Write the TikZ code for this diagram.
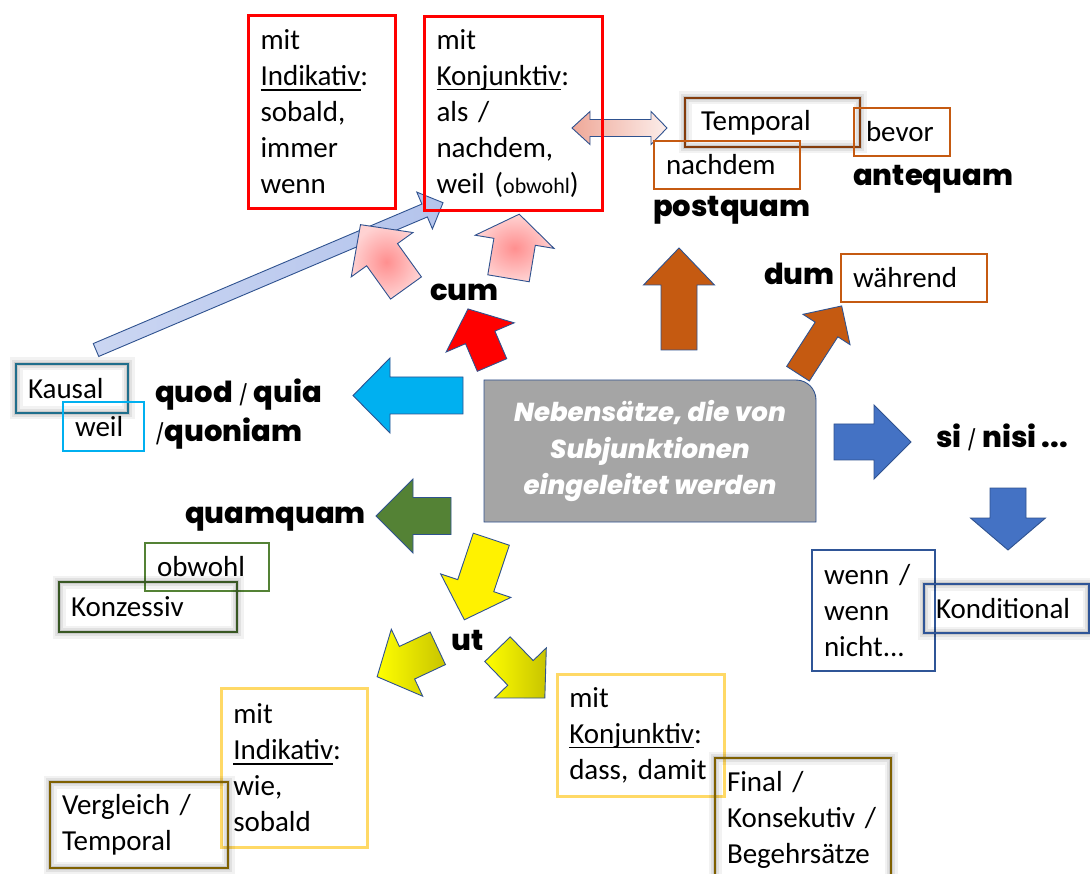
\documentclass[tikz,border=0pt]{standalone}
\usepackage{fontspec}
\setmainfont{Carlito}
\newfontfamily\futfont{Poppins}[BoldFont={Poppins ExtraBold}, BoldItalicFont={Poppins ExtraBold Italic}]
\usepackage{tikz}
\usetikzlibrary{positioning,shadings}

\definecolor{umriss}{HTML}{2F528F}
\definecolor{rot}{HTML}{FF0000}
\definecolor{braun}{HTML}{C55A11}
\definecolor{dunkelbraun}{HTML}{843C0C}
\definecolor{cyanblau}{HTML}{00B0F0}
\definecolor{petrol}{HTML}{1F6E8C}
\definecolor{gruen}{HTML}{548235}
\definecolor{dunkelgruen}{HTML}{385723}
\definecolor{blau}{HTML}{4472C4}
\definecolor{dunkelblau}{HTML}{2F5597}
\definecolor{gold}{HTML}{FFD966}
\definecolor{dunkelgold}{HTML}{7F6000}
\definecolor{grau}{HTML}{A5A5A5}
\definecolor{hellblau}{HTML}{B4C4EC}
\definecolor{rosa}{HTML}{FF8F8F}
\definecolor{lachs}{HTML}{EFA898}
\definecolor{gelbdunkel}{HTML}{C8C400}

\newcommand{\unterstr}[1]{\leavevmode\setbox0\hbox{#1}\rlap{\rule[-0.17em]{\wd0}{0.05em}}\box0}
\newcommand{\schraeg}{{\mdseries\fontsize{20}{20}\selectfont /}}

% block arrow: style, tail, angle, length, half shaft, half head, head length
\newcommand{\blockpfeil}[7]{%
  \draw[#1, shift={#2}, rotate=#3] (0,-#5) -- ({#4-#7},-#5) -- ({#4-#7},-#6) -- (#4,0)
    -- ({#4-#7},#6) -- ({#4-#7},#5) -- (0,#5) -- cycle;}

\begin{document}
\begin{tikzpicture}[x=1pt, y=-1pt,
kasten/.style={draw, line width=2pt, inner xsep=12pt, inner ysep=0pt, align=left,
  anchor=north west, font=\fontsize{29}{36}\selectfont},
schatten/.style={preaction={draw=black, draw opacity=0.05, line width=13pt},
  preaction={draw=black, draw opacity=0.07, line width=8pt},
  preaction={draw=black, draw opacity=0.10, line width=4pt}},
latein/.style={font=\futfont\bfseries\fontsize{29}{36}\selectfont, inner sep=0pt, anchor=base west},
form/.style={draw=umriss, line width=0.9pt, line join=miter}]
    \useasboundingbox (0,0) rectangle (1090,874);

    % arrows to cum boxes
    \blockpfeil{form, left color=hellblau!70, right color=hellblau}{(96,350)}{23}{377}{7}{20}{20}
    \blockpfeil{form, inner color=rosa, outer color=rosa!40}{(406,288)}{125.7}{78}{19}{38}{37}
    \blockpfeil{form, inner color=rosa, outer color=rosa!40}{(508.5,278.3)}{80.5}{65}{21}{40}{28}
    \blockpfeil{form, fill=rot}{(492,365)}{113.2}{61}{16}{37}{31}

    % arrows round the middle
    \blockpfeil{form, fill=cyanblau}{(463,395.5)}{180}{110}{18.5}{37.5}{37}
    \blockpfeil{form, fill=gruen}{(451,516)}{180}{75}{18.5}{37}{37}
    \blockpfeil{form, fill=braun}{(679,350)}{90}{102}{18}{35.5}{37}
    \blockpfeil{form, fill=braun}{(798,373.7)}{57.2}{80.6}{13.5}{28}{28}
    \blockpfeil{form, fill=blau}{(834,442)}{0}{77}{18}{37}{37}
    \blockpfeil{form, fill=blau}{(1008,488)}{-90}{62}{18}{37.5}{32}
    \blockpfeil{form, fill=yellow}{(491.3,539.2)}{-108.5}{85}{19}{37}{36}
    \blockpfeil{form, left color=yellow, right color=gelbdunkel}{(437.8,648.3)}{-154.9}{67}{18}{37}{33}
    \blockpfeil{form, left color=yellow, right color=gelbdunkel}{(497.5,649.2)}{-45.9}{68}{17.7}{36}{35}

    % double arrow
    \draw[form, left color=lachs, right color=lachs!20] (572,128) -- (590,111.5) -- (590,119.5)
        -- (651,119.5) -- (651,111.5) -- (667,128) -- (651,144.5) -- (651,136.5)
        -- (590,136.5) -- (590,144.5) -- cycle;

    % middle box
    \draw[fill=grau, draw=umriss, line width=0.9pt] (484,522) -- (484,380) -- (796,380)
        arc[start angle=90, end angle=0, radius=20pt] -- (816,522) -- cycle;
    \node[font=\futfont\bfseries\itshape\fontsize{26}{36.5}\selectfont, text=white, align=center]
        (kern) at (650,451) {Nebensätze, die von\\Subjunktionen\\eingeleitet werden};

    % cum
    \node[kasten, draw=rot, line width=3pt, text width=123pt, minimum height=193pt] (cumind) at (247,14)
        {mit\\\unterstr{Indikativ}:\\sobald,\\immer\\wenn};
    \node[kasten, draw=rot, line width=3pt, text width=154pt, minimum height=194pt] (cumkonj) at (423,15)
        {mit\\\unterstr{Konjunktiv}:\\als~/\\nachdem,\\weil~({\fontsize{22}{36}\selectfont obwohl})};
    \node[latein] (cum) at (430,301) {cum};

    % postquam / antequam / dum
    \node[kasten, schatten, draw=dunkelbraun, inner xsep=16pt, text width=143pt, minimum height=49pt] (temp) at (684,97) {Temporal};
    \node[kasten, draw=braun, text width=72pt, minimum height=48pt] (bevor) at (853,107) {bevor};
    \node[kasten, draw=braun, text width=122pt, minimum height=48pt] (nachdem) at (653,140) {nachdem};
    \node[latein] (antequam) at (853,186) {antequam};
    \node[latein] (postquam) at (653,217) {postquam};
    \node[latein] (dum) at (764,285) {dum};
    \node[kasten, draw=braun, text width=122pt, minimum height=48pt] (waehrend) at (840,253) {während};

    % quod / quia
    \node[kasten, schatten, draw=petrol, text width=88pt, minimum height=49pt] (kausal) at (15,363) {Kausal};
    \node[kasten, draw=cyanblau, text width=57pt, minimum height=49pt] (weil) at (62,401) {weil};
    \node[latein] (quod) at (155,403) {quod \schraeg{} quia};
    \node[latein] (quoniam) at (155,442) {\schraeg quoniam};

    % quamquam
    \node[latein] (quamquam) at (185,523) {quamquam};
    \node[kasten, draw=gruen, text width=100pt, minimum height=48pt] (obwohl) at (144,542) {obwohl};
    \node[kasten, schatten, draw=dunkelgruen, text width=154pt, minimum height=50pt] (konzessiv) at (58,581) {Konzessiv};

    % si / nisi
    \node[latein] (si) at (936,447) {si \schraeg{} nisi ...};
    \node[kasten, draw=dunkelblau, text width=99pt, minimum height=121pt] (wenn) at (811,549) {wenn~/\\wenn\\nicht...};
    \node[kasten, schatten, draw=dunkelblau, text width=141pt, minimum height=49pt] (kondit) at (923,583) {Konditional};

    % ut
    \node[latein] (ut) at (451,650) {ut};
    \node[kasten, draw=gold, line width=2.5pt, text width=122pt, minimum height=159pt] (utind) at (220,687)
        {mit\\\unterstr{Indikativ}:\\wie,\\sobald};
    \node[kasten, schatten, draw=dunkelgold, text width=154pt, minimum height=86pt] (vergleich) at (49,781)
        {Vergleich~/\\Temporal};
    \node[kasten, draw=gold, line width=2.5pt, text width=143pt, minimum height=122pt] (utkonj) at (556,673)
        {mit\\\unterstr{Konjunktiv}:\\dass,~damit};
    \node[kasten, schatten, draw=dunkelgold, text width=152pt, minimum height=123pt] (final) at (714,757)
        {Final~/\\Konsekutiv~/\\Begehrsätze};

\end{tikzpicture}
\end{document}
